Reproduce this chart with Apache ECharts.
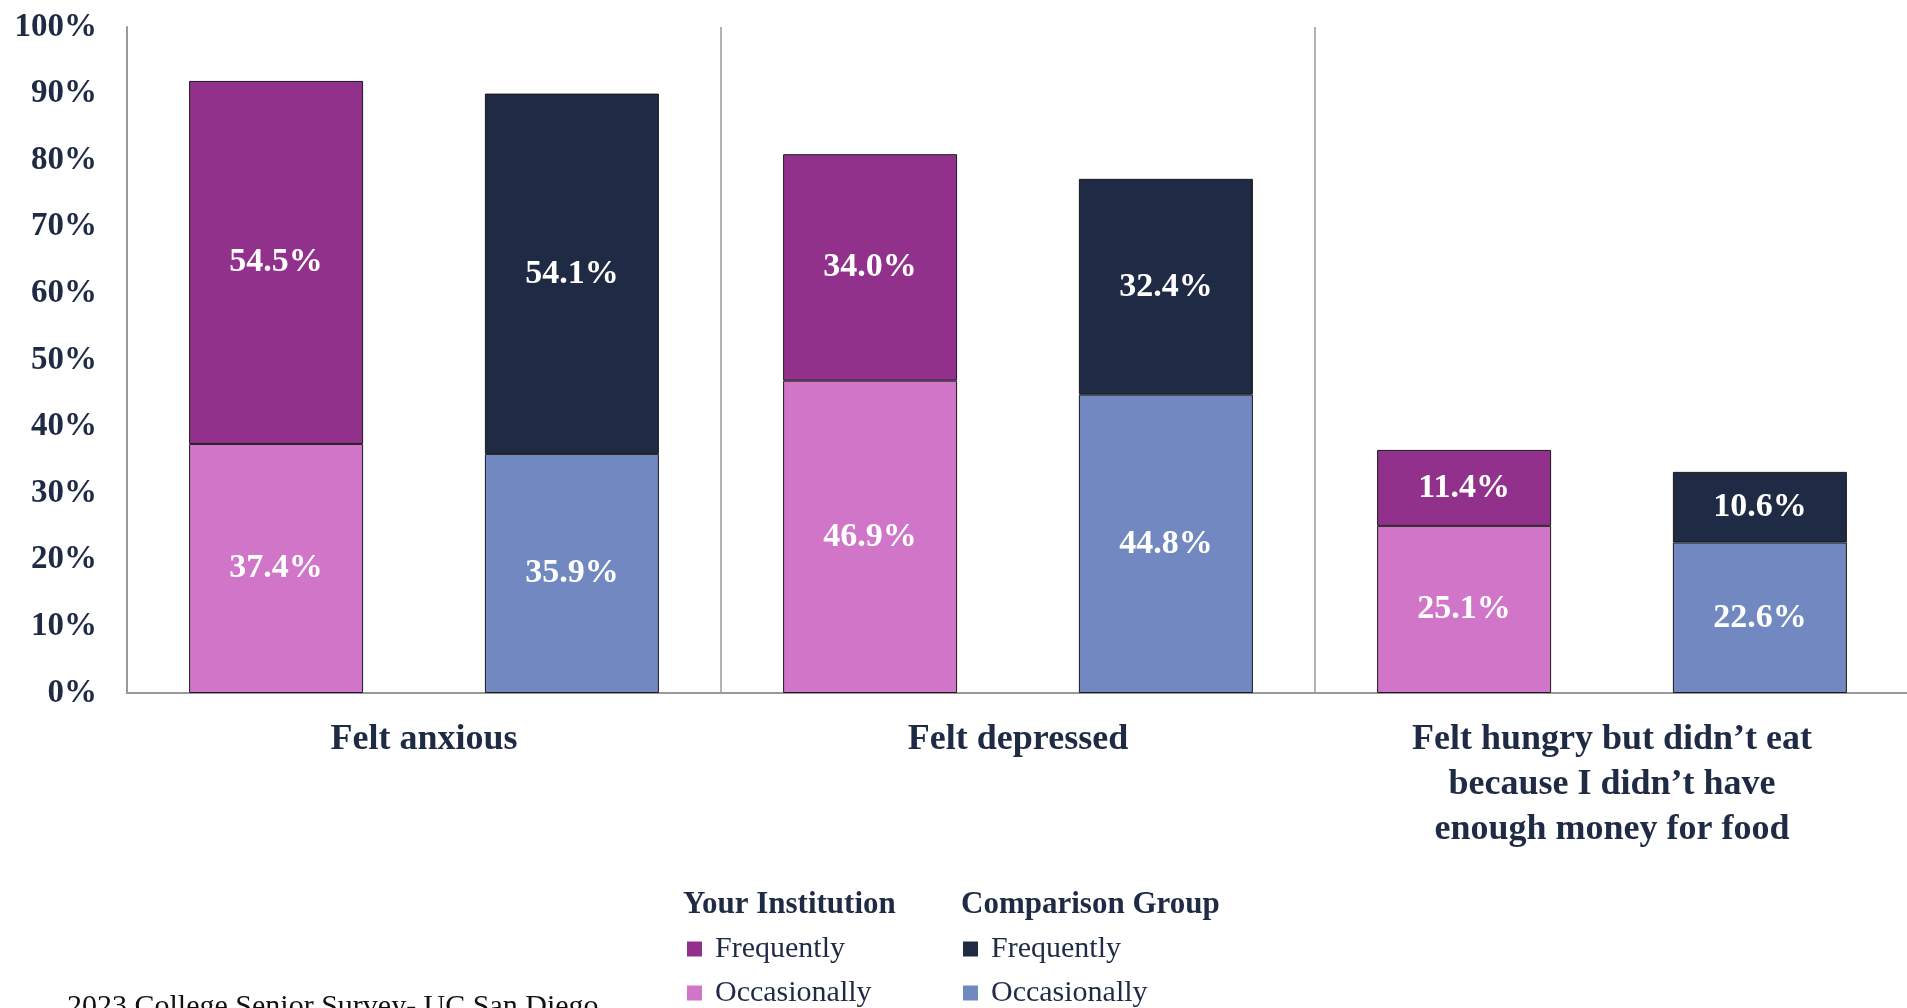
<!DOCTYPE html>
<html>
<head>
<meta charset="utf-8">
<script src="https://cdn.jsdelivr.net/npm/echarts@6/dist/echarts.min.js"></script>
<style>
  html, body { margin: 0; padding: 0; background: #fff; }
  #chart { width: 1907px; height: 1008px; }
</style>
</head>
<body>
<div id="chart"></div>
<script>
const categories = [
  'Felt anxious',
  'Felt depressed',
  'Felt hungry but didn’t eat\nbecause I didn’t have\nenough money for food',
]
const yTicks = [0, 10, 20, 30, 40, 50, 60, 70, 80, 90, 100]

// percentages
const instOccasionally = [37.4, 46.9, 25.1]
const instFrequently = [54.5, 34.0, 11.4]
const compOccasionally = [35.9, 44.8, 22.6]
const compFrequently = [54.1, 32.4, 10.6]

const navy = '#1f2a44'
const serif = '"Liberation Serif", "DejaVu Serif", serif'

const legendNames = {
  instFreq: 'Frequently',
  instOcc: 'Occasionally',
  compFreq: 'Frequently',
  compOcc: 'Occasionally',
}

function barSeries(id, stack, data, color) {
  return {
    name: id,
    type: 'bar',
    stack,
    data,
    barWidth: 174,
    barGap: '70%',
    itemStyle: { color, borderColor: '#1a1a1a', borderWidth: 1 },
    label: {
      show: true,
      position: 'inside',
      color: '#fff',
      fontFamily: serif,
      fontWeight: 'bold',
      fontSize: 34,
      formatter: p => `${p.value.toFixed(1)}%`,
    },
  }
}

const legendCommon = {
  orient: 'vertical',
  icon: 'rect',
  padding: 0,
  itemWidth: 15,
  itemHeight: 15,
  itemGap: 14,
  selectedMode: false,
  itemStyle: { borderWidth: 0 },
  textStyle: { color: navy, fontFamily: serif, fontSize: 30, lineHeight: 30, padding: [0, 0, 0, 8] },
  formatter: name => legendNames[name],
}

const chart = echarts.init(document.getElementById('chart'))
chart.setOption({
  backgroundColor: '#fff',
  animation: false,
  grid: { left: 127, right: -2, top: 27, bottom: 315, containLabel: false, outerBoundsMode: 'none' },
  xAxis: {
    type: 'category',
    data: categories,
    axisLine: { lineStyle: { color: '#999', width: 2 } },
    axisTick: { show: false },
    splitLine: { show: true, lineStyle: { color: '#999', width: 1.5 } },
    axisLabel: {
      color: navy,
      fontFamily: serif,
      fontWeight: 'bold',
      fontSize: 36,
      lineHeight: 45,
      margin: 24,
      interval: 0,
    },
  },
  yAxis: {
    type: 'value',
    min: yTicks[0],
    max: yTicks[yTicks.length - 1],
    interval: 10,
    axisLine: { show: true, lineStyle: { color: '#999', width: 2 } },
    axisTick: { show: false },
    splitLine: { show: false },
    axisLabel: {
      color: navy,
      fontFamily: serif,
      fontWeight: 'bold',
      fontSize: 33,
      margin: 30,
      formatter: '{value}%',
    },
  },
  legend: [
    { ...legendCommon, left: 687, top: 934, data: ['instFreq', 'instOcc'] },
    { ...legendCommon, left: 963, top: 934, data: ['compFreq', 'compOcc'] },
  ],
  graphic: [
    {
      type: 'text', left: 683, top: 889,
      style: { text: 'Your Institution', fill: navy, font: `bold 31px ${serif}` },
    },
    {
      type: 'text', left: 961, top: 889,
      style: { text: 'Comparison Group', fill: navy, font: `bold 31px ${serif}` },
    },
    {
      type: 'text', left: 67, top: 992,
      style: { text: '2023 College Senior Survey- UC San Diego', fill: '#111', font: `30px ${serif}` },
    },
  ],
  series: [
    barSeries('instOcc', 'inst', instOccasionally, '#d075c8'),
    barSeries('instFreq', 'inst', instFrequently, '#92318c'),
    barSeries('compOcc', 'comp', compOccasionally, '#7189c0'),
    barSeries('compFreq', 'comp', compFrequently, '#1f2a44'),
  ],
})
</script>
</body>
</html>
